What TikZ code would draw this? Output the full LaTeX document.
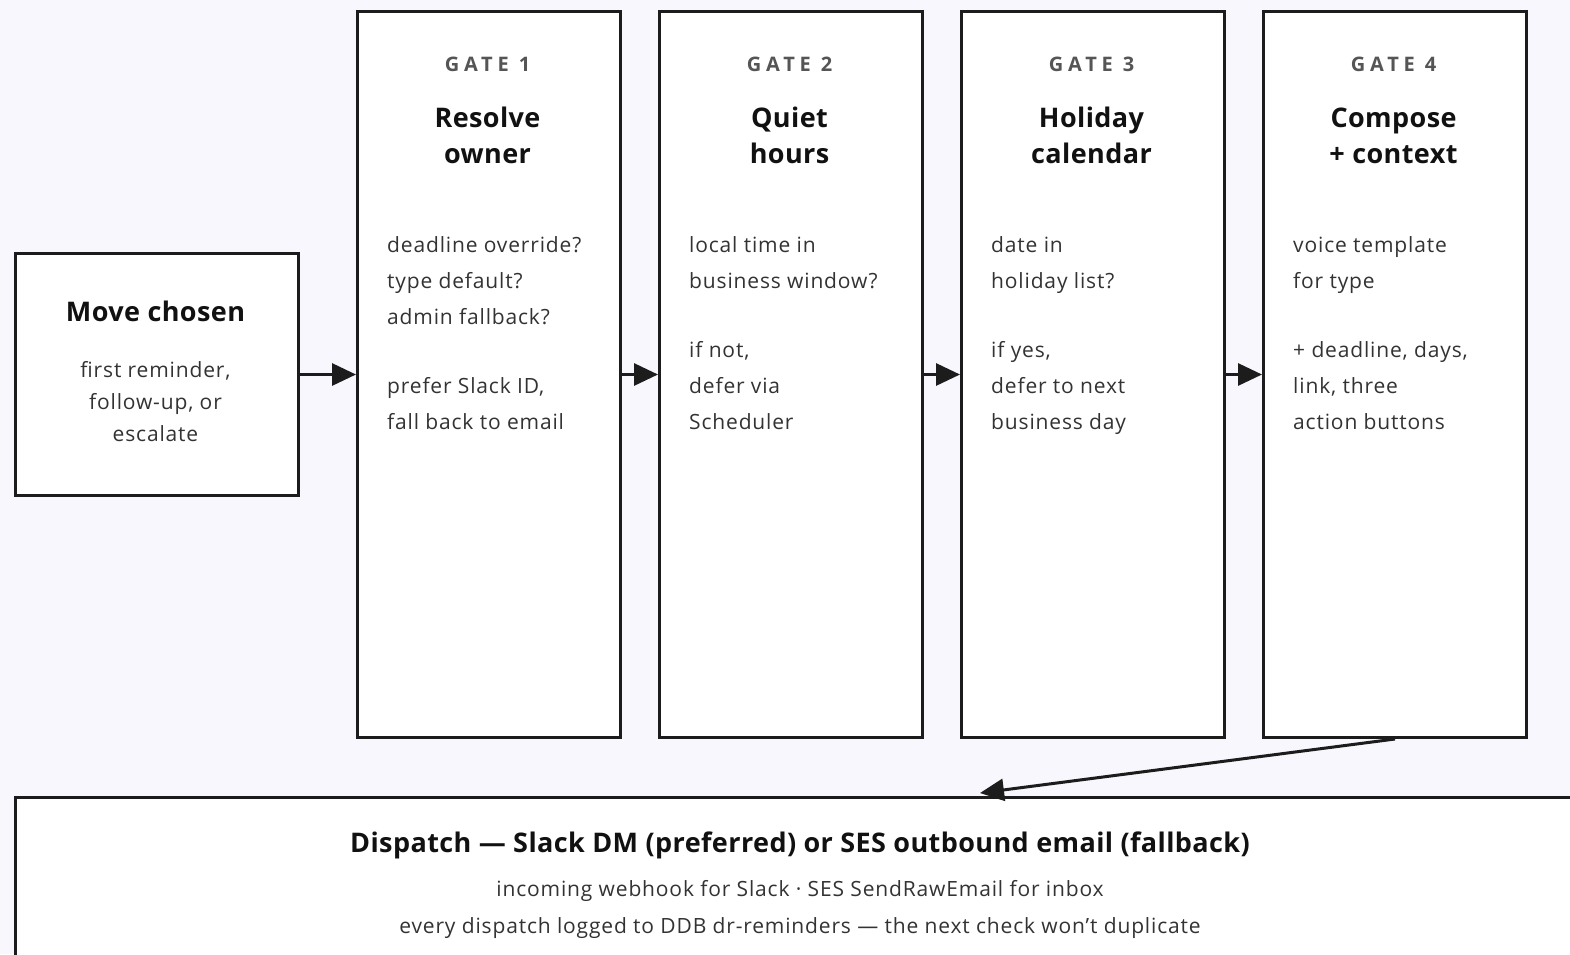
\documentclass[tikz,border=0pt]{standalone}
\usepackage{fontspec}
\setmainfont{Open Sans}
\usetikzlibrary{arrows.meta}
\definecolor{bgc}{HTML}{F8F7FD}
\definecolor{edgec}{HTML}{1C1C1C}
\definecolor{ttlc}{HTML}{111111}
\definecolor{txtc}{HTML}{333333}
\definecolor{lblc}{HTML}{555555}
\begin{document}
\begin{tikzpicture}[x=1pt,y=-1pt,
  boxs/.style={draw=edgec, line width=3pt, fill=white, inner sep=0pt, anchor=north west},
  lbls/.style={font=\fontsize{20}{24}\selectfont\bfseries\addfontfeatures{LetterSpace=24}, text=lblc, anchor=base, inner sep=0pt},
  ttls/.style={font=\fontsize{27}{32}\selectfont\bfseries\addfontfeatures{LetterSpace=1.5}, text=ttlc, anchor=base, inner sep=0pt},
  txts/.style={font=\fontsize{21}{24}\selectfont\addfontfeatures{LetterSpace=4}, text=txtc, anchor=base west, inner sep=0pt},
  ctxts/.style={font=\fontsize{21}{24}\selectfont\addfontfeatures{LetterSpace=4}, text=txtc, anchor=base, inner sep=0pt},
  conn/.style={draw=edgec, line width=3pt, -{Triangle[length=24pt,width=22pt]}}]
\useasboundingbox[fill=bgc] (0,0) rectangle (1570,954);

% boxes
\node[boxs, minimum width=283, minimum height=242] (move) at (14,252) {};
\node[boxs, minimum width=263, minimum height=726] (g1) at (356,10) {};
\node[boxs, minimum width=263, minimum height=726] (g2) at (658,10) {};
\node[boxs, minimum width=263, minimum height=726] (g3) at (960,10) {};
\node[boxs, minimum width=263, minimum height=726] (g4) at (1262,10) {};
\node[boxs, minimum width=1620, minimum height=220] (disp) at (14,796) {};

% move chosen
\node[ttls] (mt) at (155.5,321) {Move chosen};
\node[ctxts] (m1) at (155.5,377) {first reminder,};
\node[ctxts] (m2) at (155.5,409) {follow-up, or};
\node[ctxts] (m3) at (155.5,441) {escalate};

% gate 1
\node[lbls] (g1l) at (487.5,71) {GATE 1};
\node[ttls] (g1t1) at (487.5,127) {Resolve};
\node[ttls] (g1t2) at (487.5,163) {owner};
\node[txts] (g1a) at (387,252) {deadline override?};
\node[txts] (g1b) at (387,288) {type default?};
\node[txts] (g1c) at (387,324) {admin fallback?};
\node[txts] (g1d) at (387,393) {prefer Slack ID,};
\node[txts] (g1e) at (387,429) {fall back to email};

% gate 2
\node[lbls] (g2l) at (789.5,71) {GATE 2};
\node[ttls] (g2t1) at (789.5,127) {Quiet};
\node[ttls] (g2t2) at (789.5,163) {hours};
\node[txts] (g2a) at (689,252) {local time in};
\node[txts] (g2b) at (689,288) {business window?};
\node[txts] (g2c) at (689,357) {if not,};
\node[txts] (g2d) at (689,393) {defer via};
\node[txts] (g2e) at (689,429) {Scheduler};

% gate 3
\node[lbls] (g3l) at (1091.5,71) {GATE 3};
\node[ttls] (g3t1) at (1091.5,127) {Holiday};
\node[ttls] (g3t2) at (1091.5,163) {calendar};
\node[txts] (g3a) at (991,252) {date in};
\node[txts] (g3b) at (991,288) {holiday list?};
\node[txts] (g3c) at (991,357) {if yes,};
\node[txts] (g3d) at (991,393) {defer to next};
\node[txts] (g3e) at (991,429) {business day};

% gate 4
\node[lbls] (g4l) at (1393.5,71) {GATE 4};
\node[ttls] (g4t1) at (1393.5,127) {Compose};
\node[ttls] (g4t2) at (1393.5,163) {+ context};
\node[txts] (g4a) at (1293,252) {voice template};
\node[txts] (g4b) at (1293,288) {for type};
\node[txts] (g4c) at (1293,357) {+ deadline, days,};
\node[txts] (g4d) at (1293,393) {link, three};
\node[txts] (g4e) at (1293,429) {action buttons};

% dispatch
\node[ttls] (dt) at (800,852) {Dispatch — Slack DM (preferred) or SES outbound email (fallback)};
\node[ctxts] (d1) at (800,896) {incoming webhook for Slack · SES SendRawEmail for inbox};
\node[ctxts] (d2) at (800,933) {every dispatch logged to DDB dr-reminders — the next check won’t duplicate};

% connectors
\coordinate (dtop) at (980,793);
\draw[conn] (move.east) -- (g1.west);
\draw[conn] (g1.east) -- (g2.west);
\draw[conn] (g2.east) -- (g3.west);
\draw[conn] (g3.east) -- (g4.west);
\draw[conn] (g4.south) -- (dtop);
\end{tikzpicture}
\end{document}
